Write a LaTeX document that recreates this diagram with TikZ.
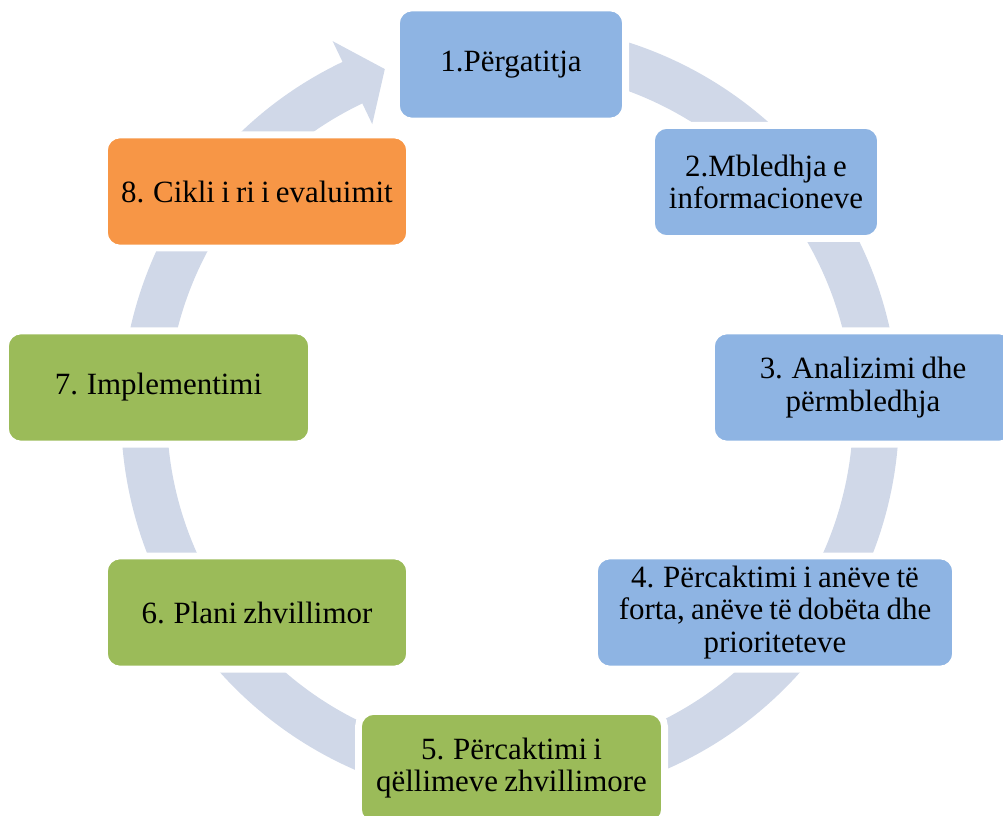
\documentclass[tikz,border=0pt]{standalone}
\usepackage{fontspec}
\setmainfont{Liberation Serif}[WordSpace=0.8]
\definecolor{ringc}{HTML}{D0D8E8}
\definecolor{blueb}{HTML}{8EB4E3}
\definecolor{greenb}{HTML}{9BBB59}
\definecolor{orangeb}{HTML}{F79646}
\begin{document}
\begin{tikzpicture}[x=0.75pt,y=-0.75pt,
  box/.style={rounded corners=9.75pt, draw=white, line width=1.2pt,
    preaction={draw=white, line width=9pt},
    minimum height=81pt, inner sep=0pt, align=center, text=black,
    font=\fontsize{23.2}{24.6}\selectfont},
  bluebox/.style={box, fill=blueb},
  greenbox/.style={box, fill=greenb},
  orangebox/.style={box, fill=orangeb}]
\useasboundingbox (0,0) rectangle (1003,816);
\clip (0,0) rectangle (1003,816);
% ring with arrowhead
\begin{scope}[shift={(510,413)}]
\fill[ringc] (-100:389) arc[start angle=-100, end angle=244.5, radius=389]
  -- (244.5:412) -- (250:366) -- (244.5:320) -- (244.5:343)
  arc[start angle=244.5, end angle=-100, radius=343] -- cycle;
\end{scope}
% boxes
\node[bluebox, minimum width=168pt] (n1) at (511,64.5) {1.Përgatitja};
\node[bluebox, minimum width=168pt] (n2) at (766,182) {2.Mbledhja e\\informacioneve};
\node[bluebox, minimum width=223.5pt] (n3) at (863,387.5) {3. Analizimi dhe\\përmbledhja};
\node[bluebox, minimum width=267pt] (n4) at (775,612.5) {4. Përcaktimi i anëve të\\forta, anëve të dobëta dhe\\prioriteteve};
\node[greenbox, minimum width=225.75pt] (n5) at (511.5,768) {5. Përcaktimi i\\qëllimeve zhvillimore};
\node[greenbox, minimum width=225pt] (n6) at (257,612.5) {6. Plani zhvillimor};
\node[greenbox, minimum width=225.75pt] (n7) at (158.5,387.5) {7. Implementimi};
\node[orangebox, minimum width=225pt] (n8) at (257,191.5) {8. Cikli i ri i evaluimit};
\end{tikzpicture}
\end{document}
